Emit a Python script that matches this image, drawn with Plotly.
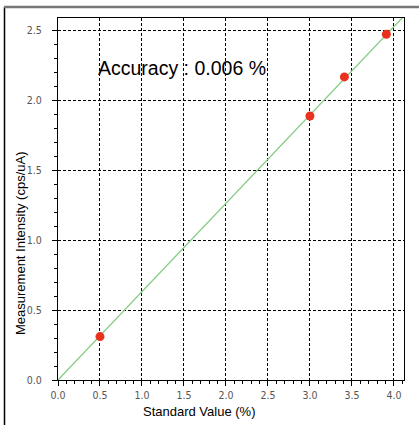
import plotly.graph_objects as go

std_values = [0.5, 3.0, 3.41, 3.91]
intensity = [0.31, 1.886, 2.165, 2.47]
fit_x = [0.0, 4.12]
fit_y = [0.0, 2.60]
x_ticks = [0.0, 0.5, 1.0, 1.5, 2.0, 2.5, 3.0, 3.5, 4.0]
y_ticks = [0.0, 0.5, 1.0, 1.5, 2.0, 2.5]

L, R, T, B = 58, 15, 18, 45
W, H = 419, 425
pw, ph = W - L - R, H - T - B
def px(x): return (x - L) / pw
def py(y): return (H - B - y) / ph

fig = go.Figure()
fig.add_trace(go.Scatter(x=fit_x, y=fit_y, mode="lines",
                         line=dict(color="#86cc84", width=1.3), hoverinfo="skip"))
fig.add_trace(go.Scatter(x=std_values, y=intensity, mode="markers",
                         marker=dict(color="#e8321e", size=9)))

tickfont = dict(family="Liberation Sans Narrow, Arial Narrow, DejaVu Sans Condensed, Roboto Condensed", size=10.5, color="#555")
common = dict(showline=True, linecolor="black", linewidth=1.2, mirror=True,
              ticks="outside", ticklen=5, tickcolor="black", tickwidth=1,
              showgrid=True, gridcolor="black", gridwidth=1, griddash="3px,2px",
              zeroline=False, tickfont=tickfont,
              minor=dict(ticks="outside", ticklen=3, tickcolor="black", dtick=0.1, showgrid=False))

fig.update_xaxes(range=[0, 4.12], tickvals=x_ticks, ticktext=[f"{v:.1f}" for v in x_ticks], **common)
fig.update_yaxes(range=[0, 2.586], tickvals=y_ticks, ticktext=[f"{v:.1f}" for v in y_ticks],
                 ticklabelstandoff=8, **common)

fig.add_annotation(x=0.45, y=2.23, xanchor="left", yanchor="middle", showarrow=False,
                   text="Accuracy : 0.006 %", font=dict(family="Liberation Sans, Arial", size=19.5, color="black"))
fig.add_annotation(xref="paper", yref="paper", x=px(199), y=py(411), xanchor="center", yanchor="middle",
                   showarrow=False,
                   text="Standard Value (%)", font=dict(family="Liberation Sans, Arial", size=13, color="black"))
fig.add_annotation(xref="paper", yref="paper", x=px(20), y=py(243), xanchor="center", yanchor="middle",
                   showarrow=False, textangle=-90,
                   text="Measurement Intensity (cps/uA)", font=dict(family="Liberation Sans, Arial", size=13, color="black"))

fig.add_shape(type="line", xref="paper", yref="paper", x0=px(4.5), x1=px(4.5), y0=py(7), y1=py(425),
              line=dict(color="black", width=1.5))
fig.add_shape(type="line", xref="paper", yref="paper", x0=px(4), x1=px(419), y0=py(7), y1=py(7),
              line=dict(color="#777", width=2.5))

fig.update_layout(width=W, height=H, margin=dict(l=L, r=R, t=T, b=B),
                  plot_bgcolor="white", paper_bgcolor="white", showlegend=False)
fig.write_html("out.html")
